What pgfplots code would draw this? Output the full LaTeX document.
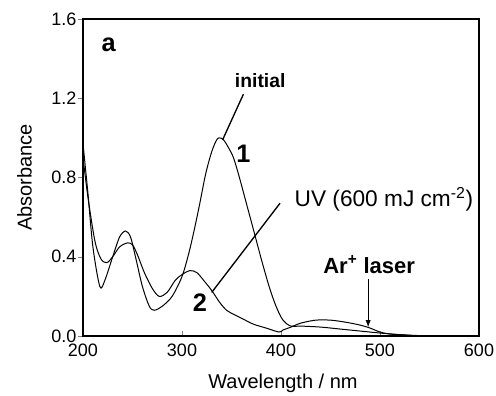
\documentclass[border=0pt]{standalone}
\usepackage{pgfplots}
\pgfplotsset{compat=1.18}
\usetikzlibrary{calc}
\usepackage{fontspec}
\setmainfont{Liberation Sans}
\begin{document}
\begin{tikzpicture}
\begin{axis}[
  name=main,
  scale only axis, width=297pt, height=237.75pt,
  xmin=200, xmax=600, ymin=0, ymax=1.6,
  xtick={200,300,400,500,600},
  ytick={0,0.4,0.8,1.2,1.6},
  xtick pos=left, ytick pos=left,
  tick align=inside, major tick length=3.5pt,
  ytick style={xshift=-3.5pt},
  /pgf/number format/assume math mode=true,
  yticklabel style={xshift=-1.5pt,/pgf/number format/.cd,fixed,fixed zerofill,precision=1},
  xticklabel style={yshift=-2.5pt,/pgf/number format/.cd,fixed,precision=0,1000 sep={}},
  ticklabel style={font=\fontsize{13.5}{15}\selectfont},
  xlabel={Wavelength / nm}, ylabel={Absorbance},
  label style={font=\fontsize{15}{17}\selectfont},
  xlabel style={at={(axis description cs:0.505,-0.150)}, anchor=center},
  ylabel style={at={(axis description cs:-0.148,0.5)}, anchor=center},
  axis line style={line width=0.8pt},
]
% initial (1)
\addplot[black, line width=0.75pt, smooth, tension=0.5, no markers] coordinates {
(200,0.97) (205,0.72) (210,0.45) (217,0.25) (222,0.28) (230,0.40) (237,0.50)
(243,0.53) (248,0.50) (253,0.40) (260,0.25) (267,0.15) (272,0.13) (280,0.15)
(290,0.20) (300,0.30) (307,0.42) (313,0.55) (318,0.67) (324,0.82) (330,0.93)
(335,0.99) (338,1.00) (342,0.99) (347,0.95) (352,0.90) (358,0.80) (365,0.67)
(372,0.54) (380,0.39) (388,0.25) (395,0.15) (402,0.08) (410,0.05) (420,0.05)
(440,0.045) (460,0.035) (480,0.025) (500,0.015) (520,0.007) (540,0.002) (560,0.0) (600,0.0)};
% UV (2)
\addplot[black, line width=0.75pt, smooth, tension=0.5, no markers] coordinates {
(200,0.90) (205,0.70) (212,0.48) (218,0.39) (224,0.37) (230,0.40) (237,0.45)
(245,0.47) (250,0.46) (255,0.41) (262,0.32) (270,0.24) (277,0.20) (285,0.22)
(293,0.28) (300,0.31) (308,0.33) (315,0.32) (322,0.28) (330,0.23) (338,0.17)
(345,0.13) (352,0.11) (360,0.09) (372,0.06) (385,0.04) (398,0.02) (402,0.03)
(410,0.045) (420,0.065) (435,0.08) (450,0.08) (465,0.07) (480,0.055) (490,0.04)
(500,0.02) (510,0.01) (525,0.005) (545,0.0) (600,0.0)};
\node[font=\bfseries\fontsize{19}{20}\selectfont] at (axis cs:226,1.47) {a};
\node[font=\bfseries\fontsize{14.5}{16}\selectfont] at (axis cs:379,1.29) {initial};
\draw[line width=1pt] (axis cs:362,1.22) -- (axis cs:341,0.99);
\node[font=\bfseries\fontsize{19}{20}\selectfont] at (axis cs:362,0.92) {1};
\node[font=\fontsize{17}{19}\selectfont] at (axis cs:504,0.69) {UV (600 mJ cm\textsuperscript{-2})};
\draw[line width=1pt] (axis cs:399,0.67) -- (axis cs:330,0.22);
\node[font=\bfseries\fontsize{19}{20}\selectfont] at (axis cs:318,0.17) {2};
\node[font=\bfseries\fontsize{16.5}{18}\selectfont] at (axis cs:489,0.36) {Ar\textsuperscript{+} laser};
\draw[line width=0.8pt,-latex] (axis cs:488,0.29) -- (axis cs:488,0.045);
\end{axis}
\pgfresetboundingbox
\path ($(main.south west)+(-62.25pt,-45pt)$) rectangle ($(main.north east)+(12.75pt,14.25pt)$);
\end{tikzpicture}
\end{document}
